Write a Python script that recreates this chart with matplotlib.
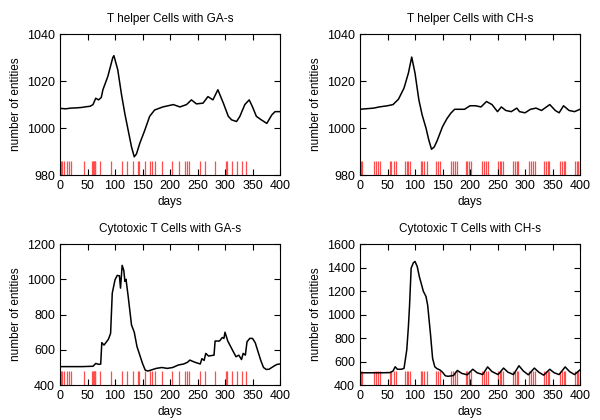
import numpy as np
import matplotlib.pyplot as plt

plt.rcParams['font.family'] = ['Liberation Sans', 'DejaVu Sans']
plt.rcParams['font.size'] = 8

# treatment days (red marks)
ga_days = [1, 4, 8, 13, 16, 20, 44, 59, 60, 61, 62, 63, 64, 73, 93, 112, 121, 132,
           141, 144, 155, 163, 167, 173, 185, 203, 217, 227, 230, 234, 254, 264,
           282, 301, 303, 313, 322, 331, 338]
ch_days = [1, 4, 26, 29, 32, 36, 54, 57, 61, 65, 82, 85, 88, 91, 110, 113, 117, 121,
           138, 141, 145, 166, 169, 172, 176, 192, 195, 198, 201, 222, 225, 229, 233,
           251, 254, 257, 260, 279, 282, 285, 288, 308, 311, 315, 318, 335, 338, 341,
           344, 364, 367, 370, 373, 391, 394, 397, 400]

# T helper, GA
th_ga_x = [0, 10, 20, 30, 40, 45, 55, 60, 65, 70, 75, 78, 87, 96, 98, 105, 112, 118,
           124, 130, 135, 139, 145, 154, 163, 172, 187, 206, 218, 230, 239, 248, 260,
           269, 278, 287, 297, 306, 312, 321, 327, 336, 344, 350, 357, 366, 376, 385,
           391, 400]
th_ga_y = [1008.4, 1008.2, 1008.5, 1008.6, 1008.8, 1009, 1009.3, 1010, 1012.7, 1012,
           1013, 1016.3, 1022, 1030, 1030.8, 1024.8, 1014, 1006, 999, 992, 987.8, 989,
           993.5, 999, 1005, 1007.7, 1009, 1010, 1009, 1010, 1012, 1010.3, 1010.6,
           1013.4, 1012, 1016.3, 1010.6, 1005, 1003.5, 1002.8, 1005, 1010, 1012, 1009,
           1005, 1003.5, 1002, 1005.6, 1007, 1007]

# T helper, CH
th_ch_x = [0, 10, 25, 35, 50, 60, 70, 80, 88, 94, 100, 107, 113, 120, 125, 130, 135,
           140, 150, 158, 165, 172, 180, 190, 200, 210, 220, 230, 240, 250, 257, 265,
           275, 285, 290, 300, 310, 320, 330, 345, 355, 362, 370, 380, 390, 400]
th_ch_y = [1008, 1008.2, 1008.5, 1009, 1009.5, 1010, 1012.3, 1017, 1023.4, 1030.2,
           1023.4, 1012, 1005.6, 1000, 995, 991, 992, 994.5, 1000.6, 1004, 1006.3, 1008,
           1008, 1008, 1009.5, 1009.5, 1009, 1011.3, 1010, 1007, 1009, 1007.5, 1007,
           1008.5, 1007, 1006.5, 1008, 1008.5, 1007.5, 1010, 1007.5, 1006.5, 1009.5,
           1007.5, 1007, 1008]

# Cytotoxic, GA
tc_ga_x = [0, 20, 40, 60, 65, 70, 74, 76, 80, 88, 92, 95, 100, 104, 108, 110, 113, 116,
           118, 120, 124, 130, 135, 140, 145, 150, 155, 160, 165, 170, 175, 185, 195,
           205, 215, 225, 232, 236, 245, 255, 258, 262, 265, 270, 280, 282, 290, 295,
           298, 300, 305, 310, 315, 320, 325, 330, 333, 337, 340, 345, 350, 355, 360,
           365, 370, 375, 380, 385, 390, 395, 400]
tc_ga_y = [505, 505, 505, 507, 523, 518, 519, 641, 627, 660, 694, 921, 997, 1022, 1020,
           950, 1079, 1050, 988, 1000, 902, 741, 700, 618, 571, 523, 485, 480, 485, 490,
           495, 500, 495, 500, 514, 520, 530, 542, 530, 520, 550, 540, 580, 565, 570,
           650, 650, 670, 665, 700, 650, 620, 590, 561, 570, 545, 580, 570, 646, 665,
           665, 640, 590, 540, 500, 489, 490, 500, 510, 518, 520]

# Cytotoxic, CH
tc_ch_x = [0, 20, 40, 55, 60, 64, 68, 75, 80, 85, 88, 90, 93, 97, 100, 104, 108, 112,
           115, 120, 123, 128, 132, 136, 140, 145, 150, 155, 160, 170, 177, 185, 195,
           205, 213, 223, 232, 240, 251, 261, 269, 279, 289, 297, 306, 317, 325, 334,
           345, 353, 362, 373, 381, 390, 400]
tc_ch_y = [505, 505, 505, 507, 520, 556, 535, 535, 542, 699, 898, 1068, 1395, 1440,
           1452, 1409, 1320, 1253, 1200, 1153, 1080, 841, 627, 556, 540, 530, 510, 480,
           475, 482, 525, 500, 488, 535, 505, 490, 555, 515, 490, 545, 510, 490, 565,
           520, 488, 545, 510, 485, 535, 505, 490, 555, 515, 490, 530]

panels = [
    ('T helper Cells with GA-s', th_ga_x, th_ga_y, ga_days, (980, 1040), 20),
    ('T helper Cells with CH-s', th_ch_x, th_ch_y, ch_days, (980, 1040), 20),
    ('Cytotoxic T Cells with GA-s', tc_ga_x, tc_ga_y, ga_days, (400, 1200), 200),
    ('Cytotoxic T Cells with CH-s', tc_ch_x, tc_ch_y, ch_days, (400, 1600), 200),
]
boxes = [(0.1, 0.583), (0.6, 0.583), (0.1, 0.083), (0.6, 0.083)]

fig = plt.figure(figsize=(6, 4.2), dpi=100)
for (title, x, y, marks, ylim, step), (l, b) in zip(panels, boxes):
    ax = fig.add_axes([l, b, 0.3667, 0.336])
    ax.vlines(marks, 0, 0.1, transform=ax.get_xaxis_transform(),
              color='#ff4d4d', lw=0.9, zorder=1)
    ax.plot(x, y, color='black', lw=1.1, zorder=2)
    ax.set_xlim(0, 400)
    ax.set_ylim(*ylim)
    ax.set_xticks(np.arange(0, 401, 50))
    ax.set_yticks(np.arange(ylim[0], ylim[1] + 1, step))
    ax.tick_params(direction='in', top=True, right=True, length=4, width=0.8,
                   labelsize=9)
    ax.set_title(title, fontsize=8.5, pad=9)
    ax.set_xlabel('days', fontsize=8.5, labelpad=3)
    ax.set_ylabel('number of entities', fontsize=8.5)

fig.savefig('out.png', dpi=100)
